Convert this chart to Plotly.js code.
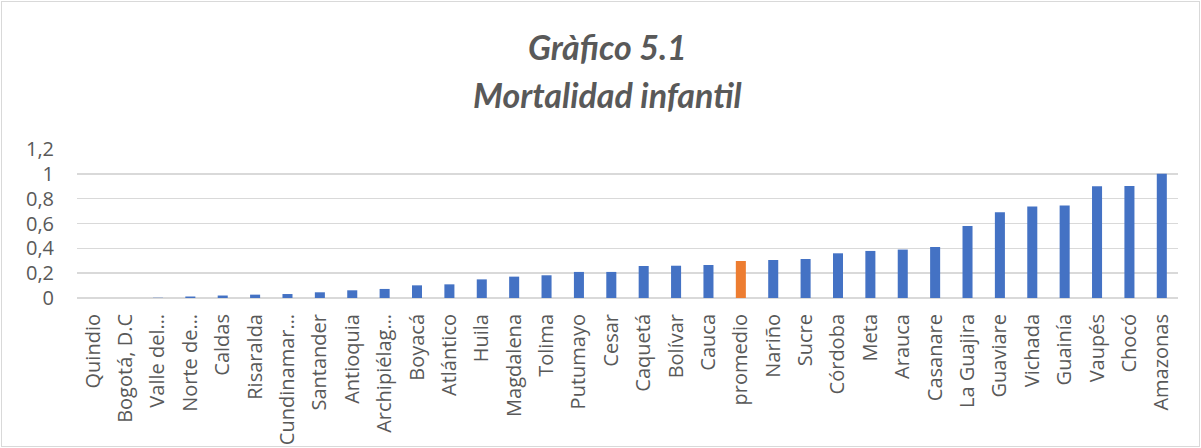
<!DOCTYPE html>
<html><head><meta charset="utf-8">
<script src="https://cdn.plot.ly/plotly-3.0.1.min.js"></script>
<style>
html,body{margin:0;padding:0;background:#fff;}
#wrap{position:relative;width:1201px;height:448px;}
#chart{width:1201px;height:448px;}
#frame{position:absolute;left:1px;top:1px;width:1197px;height:444px;border:1px solid #d9d9d9;pointer-events:none;}
</style></head>
<body>
<div id="wrap"><div id="chart"></div><div id="frame"></div></div>
<script>
const categories = ["Quindio","Bogotá, D.C","Valle del…","Norte de…","Caldas","Risaralda","Cundinamar…","Santander","Antioquia","Archipiélag…","Boyacá","Atlántico","Huila","Magdalena","Tolima","Putumayo","Cesar","Caquetá","Bolívar","Cauca","promedio","Nariño","Sucre","Córdoba","Meta","Arauca","Casanare","La Guajira","Guaviare","Vichada","Guainía","Vaupés","Chocó","Amazonas"];
const values = [0,0,0.002,0.012,0.02,0.027,0.032,0.046,0.062,0.073,0.102,0.11,0.15,0.172,0.183,0.21,0.21,0.258,0.26,0.266,0.298,0.306,0.314,0.36,0.379,0.39,0.411,0.58,0.69,0.736,0.744,0.9,0.903,1.0];
const highlight = "promedio";
const yTicks = [0,0.2,0.4,0.6,0.8,1,1.2];
const yTickText = ["0","0,2","0,4","0,6","0,8","1","1,2"];
const titleLine1 = "Gràfico 5.1";
const titleLine2 = "Mortalidad infantil";

const colors = categories.map(c => c === highlight ? "#ED7D31" : "#4472C4");
const trace = {type:"bar", x:categories, y:values, marker:{color:colors, line:{width:0}}, hoverinfo:"x+y"};
const titleFont = {family:"Lato, 'Open Sans', sans-serif", size:34, color:"#595959", weight:700, style:"italic"};
const ph = 448-149-150;
const layout = {
  width:1201, height:448,
  margin:{l:77, r:23, t:149, b:150, pad:0},
  paper_bgcolor:"#fff", plot_bgcolor:"#fff",
  bargap:0.69,
  showlegend:false,
  font:{family:"'Open Sans', sans-serif", color:"#595959"},
  xaxis:{type:"category", tickangle:-90, tickfont:{size:20, color:"#595959"}, ticklabelstandoff:11, showgrid:false, zeroline:false, showline:false, ticks:"", automargin:false},
  yaxis:{range:[0,1.2], tickvals:yTicks, ticktext:yTickText, tickfont:{size:20, color:"#595959"}, ticklabelstandoff:22, showgrid:true, gridcolor:"#d9d9d9", gridwidth:1.5, zeroline:true, zerolinecolor:"#d9d9d9", zerolinewidth:1.5, showline:false, ticks:"", ticklen:0, automargin:false},
  annotations:[
    {text:"<b><i>"+titleLine1+"</i></b>", xref:"paper", yref:"paper", x:0.482, y:1 + (149-47)/ph, yanchor:"middle", xanchor:"center", showarrow:false, font:titleFont},
    {text:"<b><i>"+titleLine2+"</i></b>", xref:"paper", yref:"paper", x:0.482, y:1 + (149-94)/ph, yanchor:"middle", xanchor:"center", showarrow:false, font:titleFont}
  ]
};
Plotly.newPlot("chart",[trace],layout,{displayModeBar:false,staticPlot:true});
</script>
</body></html>
